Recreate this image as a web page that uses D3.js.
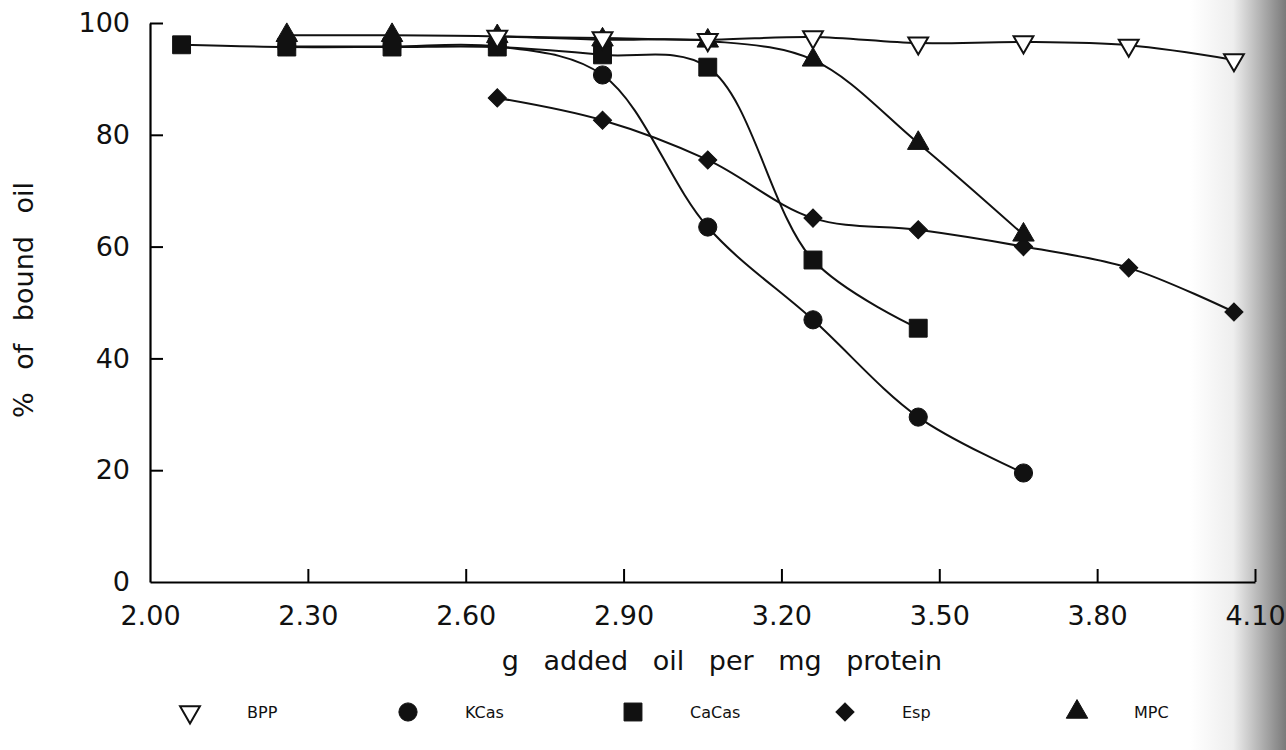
<!DOCTYPE html>
<html>
<head>
<meta charset="utf-8">
<script src="https://cdn.jsdelivr.net/npm/d3@7"></script>
<style>
  body { margin: 0; background: #fff; }
  svg { display: block; }
</style>
</head>
<body>
<div id="chart"></div>
<script>
// values
const xTicks = [2.00, 2.30, 2.60, 2.90, 3.20, 3.50, 3.80, 4.10];
const yTicks = [0, 20, 40, 60, 80, 100];

const bppX  = [2.66, 2.86, 3.06, 3.26, 3.46, 3.66, 3.86, 4.06];
const bppY  = [97.6, 97.3, 97.0, 97.5, 96.4, 96.6, 96.0, 93.4];

const kcasX = [2.26, 2.46, 2.66, 2.86, 3.06, 3.26, 3.46, 3.66];
const kcasY = [95.8, 95.8, 95.8, 90.7, 63.5, 46.9, 29.5, 19.5];

const cacasX = [2.06, 2.26, 2.46, 2.66, 2.86, 3.06, 3.26, 3.46];
const cacasY = [96.1, 95.7, 95.7, 95.7, 94.3, 92.1, 57.6, 45.4];

const espX = [2.66, 2.86, 3.06, 3.26, 3.46, 3.66, 3.86, 4.06];
const espY = [86.6, 82.6, 75.5, 65.1, 63.0, 60.0, 56.2, 48.3];

const mpcX = [2.26, 2.46, 2.66, 2.86, 3.06, 3.26, 3.46, 3.66];
const mpcY = [97.8, 97.8, 97.6, 97.0, 96.8, 93.4, 78.5, 62.1];

const seriesNames = ["BPP", "KCas", "CaCas", "Esp", "MPC"];

const width = 1286, height = 750;
const font = "'DejaVu Sans', sans-serif";

const svg = d3.select("#chart").append("svg")
    .attr("width", width)
    .attr("height", height)
    .style("font-family", font);

// scanner shading at the right edge
const defs = svg.append("defs");
const grad = defs.append("linearGradient").attr("id", "edge").attr("x1", 0).attr("x2", 1);
grad.append("stop").attr("offset", "0%").attr("stop-color", "#fff");
grad.append("stop").attr("offset", "45%").attr("stop-color", "#eee");
grad.append("stop").attr("offset", "100%").attr("stop-color", "#7a7a7a");
svg.append("rect").attr("x", 1190).attr("y", 0).attr("width", 96).attr("height", height)
    .attr("fill", "url(#edge)");

const x = d3.scaleLinear().domain([2.0, 4.1]).range([150, 1255]);
const y = d3.scaleLinear().domain([0, 100]).range([582, 23]);

// axes (ticks point inward, like the original)
const xAxis = d3.axisBottom(x).tickValues(xTicks).tickFormat(d3.format(".2f"))
    .tickSizeInner(-13).tickSizeOuter(0).tickPadding(24);
const gx = svg.append("g").attr("transform", `translate(0,${y(0)})`).call(xAxis);
gx.select(".domain").attr("stroke-width", 2.2);
gx.selectAll(".tick line").attr("stroke-width", 2);
gx.selectAll(".tick").filter(d => d === 2.0).select("line").remove();
gx.selectAll("text").attr("font-size", 27).attr("font-family", font).attr("fill", "#111");

const yAxis = d3.axisLeft(y).tickValues(yTicks)
    .tickSizeInner(-13).tickSizeOuter(0).tickPadding(20);
const gy = svg.append("g").attr("transform", `translate(${x(2.0)},0)`).call(yAxis);
gy.select(".domain").attr("stroke-width", 2.2);
gy.selectAll(".tick line").attr("stroke-width", 2);
gy.selectAll(".tick").filter(d => d === 0).select("line").remove();
gy.selectAll("text").attr("font-size", 27).attr("font-family", font).attr("fill", "#111");

// axis titles
svg.append("text")
    .attr("x", 722).attr("y", 670)
    .attr("text-anchor", "middle")
    .attr("font-size", 27)
    .attr("word-spacing", 16)
    .attr("fill", "#111")
    .text("g added oil per mg protein");

svg.append("text")
    .attr("transform", "translate(33,300) rotate(-90)")
    .attr("text-anchor", "middle")
    .attr("font-size", 27)
    .attr("word-spacing", 14)
    .attr("fill", "#111")
    .text("% of bound oil");

// series
const series = [
  {name: "KCas",  xs: kcasX,  ys: kcasY,  sym: d3.symbolCircle,  size: 260, fill: "#111"},
  {name: "CaCas", xs: cacasX, ys: cacasY, sym: d3.symbolSquare,  size: 320, fill: "#111"},
  {name: "Esp",   xs: espX,   ys: espY,   sym: d3.symbolSquare,  size: 165, fill: "#111", rot: 45},
  {name: "MPC",   xs: mpcX,   ys: mpcY,   sym: d3.symbolTriangle, size: 200, fill: "#111"},
  {name: "BPP",   xs: bppX,   ys: bppY,   sym: d3.symbolTriangle, size: 170, fill: "#fff", rot: 180}
];
series.forEach(s => { s.pts = s.xs.map((v, i) => [v, s.ys[i]]); });

const line = d3.line()
    .x(d => x(d[0]))
    .y(d => y(d[1]))
    .curve(d3.curveCatmullRom.alpha(0.5));

svg.append("g")
    .attr("fill", "none")
    .attr("stroke", "#111")
    .attr("stroke-width", 2)
  .selectAll("path")
  .data(series)
  .join("path")
    .attr("d", d => line(d.pts));

function symbolAt(g, s, px, py) {
  g.append("path")
    .attr("transform", `translate(${px},${py})` + (s.rot ? ` rotate(${s.rot})` : ""))
    .attr("d", d3.symbol(s.sym, s.size))
    .attr("fill", s.fill)
    .attr("stroke", "#111")
    .attr("stroke-width", s.fill === "#fff" ? 2 : 1);
}

const marks = svg.append("g");
series.forEach(s => {
  const g = marks.append("g");
  s.pts.forEach(d => symbolAt(g, s, x(d[0]), y(d[1])));
});

// legend row under the axis title
const legendX = [190, 408, 633, 845, 1077];
const legendSym = {
  BPP: series[4], KCas: series[0], CaCas: series[1], Esp: series[2], MPC: series[3]
};
const leg = svg.append("g").attr("transform", "translate(0,712)");
seriesNames.forEach((name, i) => {
  symbolAt(leg, legendSym[name], legendX[i], 0);
  leg.append("text")
    .attr("x", legendX[i] + 57)
    .attr("y", 6)
    .attr("font-size", 16)
    .attr("fill", "#111")
    .text(name);
});
</script>
</body>
</html>
